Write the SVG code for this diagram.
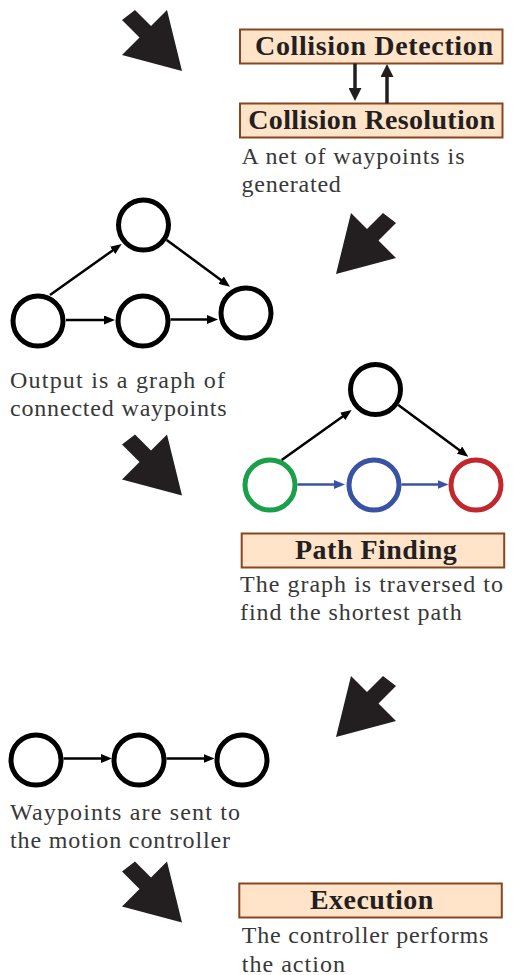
<svg xmlns="http://www.w3.org/2000/svg" xmlns:xlink="http://www.w3.org/1999/xlink" width="513" height="975" viewBox="0 0 513 975">
  <style>
    .box { fill: #FFE4CA; stroke: #87461F; stroke-width: 2; }
    .title { font-family: "Liberation Serif", "Times New Roman", serif; font-weight: bold; font-size: 28px; fill: #231F20; }
    .note { font-family: "Liberation Serif", "Times New Roman", serif; font-size: 24px; fill: #383838; }
    .wp { fill: none; stroke-width: 5; }
    .wp-black { stroke: #000000; }
    .wp-green { stroke: #1A9F4A; }
    .wp-blue { stroke: #3953A4; }
    .wp-red { stroke: #C1272D; }
    .edge { fill: none; stroke: #000000; stroke-width: 2.5; marker-end: url(#head); }
    .edge-blue { fill: none; stroke: #3953A4; stroke-width: 2.5; marker-end: url(#headBlue); }
    .link { fill: none; stroke: #231F20; stroke-width: 3.5; marker-end: url(#headThick); }
    .step { fill: #231F20; }
  </style>
  <defs>
    <marker id="head" markerUnits="userSpaceOnUse" markerWidth="11" markerHeight="9" refX="6" refY="4.5" orient="auto" viewBox="0 0 11 9">
      <path d="M0,0 L11,4.5 L0,9 Z" fill="#000000"/>
    </marker>
    <marker id="headBlue" markerUnits="userSpaceOnUse" markerWidth="11" markerHeight="9" refX="6" refY="4.5" orient="auto" viewBox="0 0 11 9">
      <path d="M0,0 L11,4.5 L0,9 Z" fill="#3953A4"/>
    </marker>
    <marker id="headThick" markerUnits="userSpaceOnUse" markerWidth="13" markerHeight="13" refX="6" refY="6.5" orient="auto" viewBox="0 0 13 13">
      <path d="M0,0 L13,6.5 L0,13 Z" fill="#231F20"/>
    </marker>
    <!-- block arrow pointing down-right, 60x61 box -->
    <path id="bigArrow" d="M13,0 L29,16 L45,0 L60,61 L0,45 L17.5,27.5 L0,10 Z"/>
  </defs>

  <!-- stage arrows -->
  <g id="step-arrows" class="step">
    <use xlink:href="#bigArrow" href="#bigArrow" transform="translate(122,10)"/>
    <use xlink:href="#bigArrow" href="#bigArrow" transform="translate(396,213) scale(-1,1)"/>
    <use xlink:href="#bigArrow" href="#bigArrow" transform="translate(122,434.5)"/>
    <use xlink:href="#bigArrow" href="#bigArrow" transform="translate(396,676) scale(-1,1)"/>
    <use xlink:href="#bigArrow" href="#bigArrow" transform="translate(122,861.5)"/>
  </g>

  <!-- process boxes -->
  <g id="collision-detection">
    <rect class="box" x="240" y="29.5" width="262.5" height="34"/>
    <text class="title" x="255" y="55" textLength="238">Collision Detection</text>
  </g>
  <g id="collision-resolution">
    <rect class="box" x="240" y="103.5" width="262.5" height="34"/>
    <text class="title" x="248.3" y="129" textLength="246.7">Collision Resolution</text>
  </g>
  <g id="path-finding">
    <rect class="box" x="241.7" y="533.5" width="262.5" height="34"/>
    <text class="title" x="295" y="558.5" textLength="161.7">Path Finding</text>
  </g>
  <g id="execution">
    <rect class="box" x="239.3" y="883.5" width="262.5" height="34"/>
    <text class="title" x="310" y="908.5" textLength="123.3">Execution</text>
  </g>

  <!-- waypoint net -->
  <g id="net-top"><circle class="wp wp-black" cx="143.5" cy="225" r="25"/></g>
  <g id="net-left"><circle class="wp wp-black" cx="38" cy="321" r="25"/></g>
  <g id="net-mid"><circle class="wp wp-black" cx="143" cy="321" r="25"/></g>
  <g id="net-right"><circle class="wp wp-black" cx="246" cy="313" r="25"/></g>

  <!-- traversed graph -->
  <g id="path-top"><circle class="wp wp-black" cx="375.5" cy="389.5" r="25"/></g>
  <g id="path-start"><circle class="wp wp-green" cx="270" cy="485" r="25"/></g>
  <g id="path-mid"><circle class="wp wp-blue" cx="374" cy="485" r="25"/></g>
  <g id="path-goal"><circle class="wp wp-red" cx="476" cy="485" r="25"/></g>

  <!-- waypoint sequence -->
  <g id="seq-1"><circle class="wp wp-black" cx="36" cy="760" r="25"/></g>
  <g id="seq-2"><circle class="wp wp-black" cx="139" cy="760" r="25"/></g>
  <g id="seq-3"><circle class="wp wp-black" cx="242" cy="760" r="25"/></g>

  <!-- connectors -->
  <g id="connectors">
    <path class="link" d="M355,63.5 L355,94"/>
    <path class="link" d="M387,103.5 L387,71"/>

    <path class="edge" d="M66,320 L110,320"/>
    <path class="edge" d="M170.5,319.5 L213,319.5"/>
    <path class="edge" d="M50,295 L117.6,246.9"/>
    <path class="edge" d="M166.7,240 L226,283.7"/>

    <path class="edge" d="M281.7,460 L347.6,412.9"/>
    <path class="edge" d="M398.3,405 L464.3,453.7"/>
    <path class="edge-blue" d="M297.5,484.5 L340,484.5"/>
    <path class="edge-blue" d="M401.5,484.5 L443.5,484.5"/>

    <path class="edge" d="M63.5,758.5 L107,758.5"/>
    <path class="edge" d="M166.5,758.5 L209.5,758.5"/>
  </g>

  <!-- descriptions -->
  <g id="notes">
    <text class="note" x="241.5" y="164" textLength="223">A net of waypoints is</text>
    <text class="note" x="241.5" y="192" textLength="99.3">generated</text>
    <text class="note" x="10" y="388" textLength="215">Output is a graph of</text>
    <text class="note" x="10" y="416" textLength="216.7">connected waypoints</text>
    <text class="note" x="240" y="592" textLength="263">The graph is traversed to</text>
    <text class="note" x="240" y="620" textLength="221.7">find the shortest path</text>
    <text class="note" x="10" y="820" textLength="230">Waypoints are sent to</text>
    <text class="note" x="10" y="848" textLength="220">the motion controller</text>
    <text class="note" x="241.7" y="943.3" textLength="246.7">The controller performs</text>
    <text class="note" x="241.7" y="971.5" textLength="103.3">the action</text>
  </g>
</svg>
